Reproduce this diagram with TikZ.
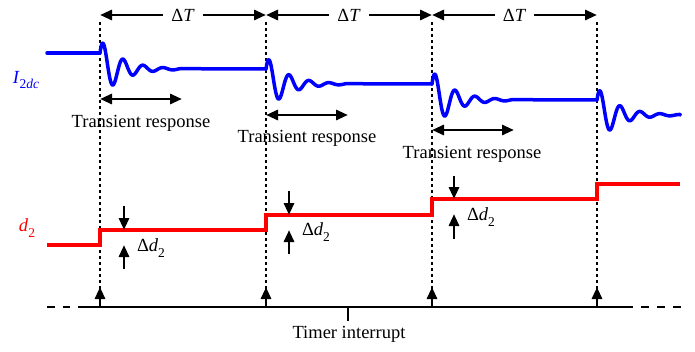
\documentclass[tikz,border=0pt]{standalone}
\usepackage{fontspec}
\setmainfont{Liberation Serif}
\usetikzlibrary{arrows.meta}
\newcommand{\sbs}[1]{\raisebox{-0.28em}{\fontsize{13.5}{13.5}\selectfont #1}}
\newcommand{\lbl}{\fontsize{18.5}{22}\selectfont}
\begin{document}
\begin{tikzpicture}[x=1pt,y=-1pt,
  iwave/.style={draw=blue,line width=3.5pt,line cap=round,line join=round},
  dwave/.style={draw=red,line width=3.1pt,line join=miter},
  arr/.style={draw=black,line width=2.9pt,-{Triangle[length=12pt,width=10pt]}},
  darr/.style={draw=black,line width=2.9pt,{Triangle[length=12pt,width=10pt]}-{Triangle[length=12pt,width=10pt]}},
  dotline/.style={draw=black,line width=2.8pt,dash pattern=on 3pt off 3pt},
  tl/.style={draw=black,line width=2.9pt},
  every node/.style={font=\lbl}]
\useasboundingbox (0,0) rectangle (695,351);
% event coordinates
\coordinate (v1) at (100,0);
\coordinate (v2) at (266,0);
\coordinate (v3) at (432,0);
\coordinate (v4) at (597,0);
% dotted lines
\foreach \v in {100,266,432,597}{
  \draw[dotline] (\v,22) -- (\v,289);
  \draw[arr] (\v,307) -- (\v,287);
}
% Delta T arrows
\draw[darr] (100,15) -- node[fill=white,inner xsep=8pt,inner ysep=1pt] {Δ\textit{T}} (266,15);
\draw[darr] (266,15) -- node[fill=white,inner xsep=8pt,inner ysep=1pt] {Δ\textit{T}} (432,15);
\draw[darr] (432,15) -- node[fill=white,inner xsep=8pt,inner ysep=1pt] {Δ\textit{T}} (597,15);
% blue current waveform
\draw[iwave] (47,53) -- (100,53);
\foreach \a/\o/\n/\e/\dm in {100/53/69/266/80, 266/69/84/432/80, 432/84/100/597/80, 597/100/115/680/83}{
  \draw[iwave] (\a,\o) -- plot[domain=0:\dm,samples=140] ({\a+\x},{\n-1.87*(\n-\o)*exp(-0.048*\x)*cos(deg(0.314*(\x-3.2)))}) -- (\e,\n);
}
\node[text=blue] (ilab) at (26,80) {\textit{I}\sbs{2\textit{dc}}};
% transient response arrows
\draw[darr] (100,99) -- (182,99);
\node (t1) at (141,123) {Transient response};
\draw[darr] (266,115) -- (348,115);
\node (t2) at (307,138) {Transient response};
\draw[darr] (432,130) -- (514,130);
\node (t3) at (472,154) {Transient response};
% red duty waveform
\draw[dwave] (47,245) -- (100,245) -- (100,230) -- (266,230) -- (266,215) -- (432,215) -- (432,199) -- (597,199) -- (597,184) -- (680,184);
\node[text=red] (dlab) at (27,228) {\textit{d}\sbs{2}};
% Delta d2 arrows
\draw[arr] (124,206) -- (124,230);
\draw[arr] (124,269) -- (124,245);
\node (dd1) at (151,248) {Δ\textit{d}\sbs{2}};
\draw[arr] (289,191) -- (289,215);
\draw[arr] (289,254) -- (289,230);
\node (dd2) at (316,232) {Δ\textit{d}\sbs{2}};
\draw[arr] (454,176) -- (454,199);
\draw[arr] (454,239) -- (454,214);
\node (dd3) at (481,217) {Δ\textit{d}\sbs{2}};
% timeline
\draw[tl] (78,307) -- (633,307);
\draw[tl,dash pattern=on 7.5pt off 8pt] (47,307) -- (70,307);
\draw[tl,dash pattern=on 8pt off 8pt] (641,307) -- (681,307);
\draw[tl] (348,307) -- (348,321);
\node (ti) at (349,334) {Timer interrupt};
\end{tikzpicture}
\end{document}
